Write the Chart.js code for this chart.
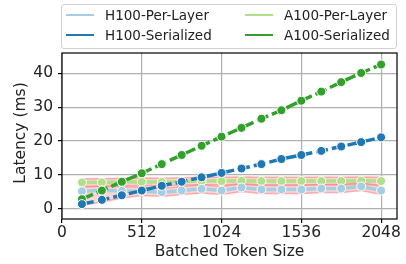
<!DOCTYPE html>
<html><head><meta charset="utf-8">
<script src="https://cdn.jsdelivr.net/npm/chart.js@4"></script>
<style>
html,body{margin:0;padding:0;background:#fff;}
#wrap{position:relative;width:406px;height:264px;font-family:"DejaVu Sans",sans-serif;}
#legend{position:absolute;left:61px;top:4px;width:334px;height:43px;border:1px solid #d0d0d0;border-radius:3px;background:rgba(255,255,255,0.85);font-size:13.5px;color:#222;}
.li{position:absolute;height:18px;line-height:18px;white-space:nowrap;}
.li span.s{position:absolute;top:8px;width:28px;height:2px;}
.li span.t{position:absolute;left:39px;top:0;}
</style></head>
<body><div id="wrap"><canvas id="c" width="406" height="264"></canvas>
<div id="legend"></div></div>
<script>
const tokens = [128,256,384,512,640,768,896,1024,1152,1280,1408,1536,1664,1792,1920,2048];
const h100PerLayer = [5.2,5.5,5.3,5.2,4.9,5.4,5.9,5.4,6.3,5.7,5.7,5.7,6.0,6.0,6.6,5.4];
const h100Serialized = [1.4,2.65,4.0,5.4,6.8,8.0,9.3,10.6,11.9,13.2,14.7,15.9,17.1,18.4,19.7,21.1];
const a100PerLayer = [7.8,7.8,7.9,8.0,7.9,8.1,8.2,8.2,8.3,8.2,8.2,8.2,8.2,8.2,8.3,8.2];
const a100Serialized = [2.85,5.4,8.0,10.5,13.2,15.9,18.6,21.3,23.9,26.6,29.1,31.9,34.6,37.4,40.1,42.6];
const h100BandLow = [1.0,2.0,3.2,3.9,3.7,4.2,4.7,4.2,5.1,4.5,4.5,4.5,4.8,4.8,5.4,4.2];
const h100BandHigh = [6.4,6.7,6.5,6.4,6.1,6.6,7.1,6.6,7.5,6.9,6.9,6.9,7.2,7.2,7.8,6.6];
const a100BandLow = [6.7,6.7,6.8,6.9,6.8,7.0,7.1,7.1,7.2,7.1,7.1,7.1,7.1,7.1,7.2,7.1];
const a100BandHigh = [8.9,8.9,9.0,9.1,9.0,9.2,9.3,9.3,9.4,9.3,9.3,9.3,9.3,9.3,9.4,9.3];
const xTicks = [0,512,1024,1536,2048];
const yTicks = [0,10,20,30,40];

const C = {h1:'#a6cee3', h2:'#1f78b4', a1:'#b2df8a', a2:'#33a02c'};
const pts = arr => tokens.map((t,i)=>({x:t,y:arr[i]}));
const bandFill = 'rgba(248,150,150,0.4)';
const bandEdge = 'rgba(250,130,130,0.6)';
function band(arr, fillTo){
  return {data:pts(arr), borderColor:bandEdge, borderWidth:1.5, pointRadius:0, backgroundColor:bandFill, fill:fillTo, order:10, tension:0};
}
function line(label, arr, color, dashed){
  return {label, data:pts(arr), borderColor:color, backgroundColor:color, borderWidth:3.5,
    borderDash: dashed?[12,4]:[], pointRadius:4.5, pointBorderColor:'#fff', pointBorderWidth:1,
    pointBackgroundColor:color, fill:false, tension:0, order: dashed?1:5};
}
const datasets = [
  band(h100BandLow,false), band(h100BandHigh,'-1'),
  band(a100BandLow,false), band(a100BandHigh,'-1'),
  line('H100-Per-Layer', h100PerLayer, C.h1, false),
  line('A100-Per-Layer', a100PerLayer, C.a1, false),
  line('H100-Serialized', h100Serialized, C.h2, true),
  line('A100-Serialized', a100Serialized, C.a2, true)
];

const frame = {id:'frame', afterDraw(chart){
  const {ctx, chartArea:a} = chart;
  ctx.save(); ctx.strokeStyle='#000'; ctx.lineWidth=1.2;
  ctx.strokeRect(a.left, a.top, a.right-a.left, a.bottom-a.top);
  ctx.fillStyle='#222'; ctx.font='15.5px "DejaVu Sans"';
  ctx.translate(21,133); ctx.rotate(-Math.PI/2);
  ctx.textAlign='center'; ctx.textBaseline='middle';
  ctx.fillText('Latency (ms)',0,0);
  ctx.restore();
}};

const tickFont = {family:'DejaVu Sans', size:15.5};
new Chart(document.getElementById('c'), {
  type:'line',
  data:{datasets},
  options:{
    responsive:false, animation:false, devicePixelRatio:1,
    layout:{padding:{top:53,right:9,left:0,bottom:0}},
    plugins:{legend:{display:false}, tooltip:{enabled:false}},
    scales:{
      x:{type:'linear', min:0, max:2150,
        afterBuildTicks(s){ s.ticks = xTicks.map(v=>({value:v})); },
        afterFit(s){ s.height = 45; },
        grid:{color:'#b0b0b0', lineWidth:1.2, tickColor:'#000', tickLength:4},
        border:{display:false},
        ticks:{color:'#222', font:tickFont, padding:1, maxRotation:0, callback:v=>String(v)},
        title:{display:true, text:'Batched Token Size', color:'#222', font:tickFont, padding:{top:0,bottom:3}}
      },
      y:{type:'linear', min:-3, max:46,
        afterBuildTicks(s){ s.ticks = yTicks.map(v=>({value:v})); },
        afterFit(s){ s.width = 62; },
        grid:{color:'#b0b0b0', lineWidth:1.2, tickColor:'#000', tickLength:4},
        border:{display:false},
        ticks:{color:'#222', font:tickFont, padding:5, callback:v=>String(v)},
        title:{display:false}
      }
    }
  },
  plugins:[frame]
});

const legendItems = [
  ['H100-Per-Layer', C.h1, 4, 9.5],
  ['H100-Serialized', C.h2, 4, 30],
  ['A100-Per-Layer', C.a1, 183, 9.5],
  ['A100-Serialized', C.a2, 183, 30]
];
const lg = document.getElementById('legend');
legendItems.forEach(([t,c,x,y])=>{
  const d = document.createElement('div'); d.className='li';
  d.style.left = x+'px'; d.style.top = (y-9)+'px';
  d.innerHTML = '<span class="s" style="background:'+c+'"></span><span class="t">'+t+'</span>';
  lg.appendChild(d);
});
</script></body></html>
